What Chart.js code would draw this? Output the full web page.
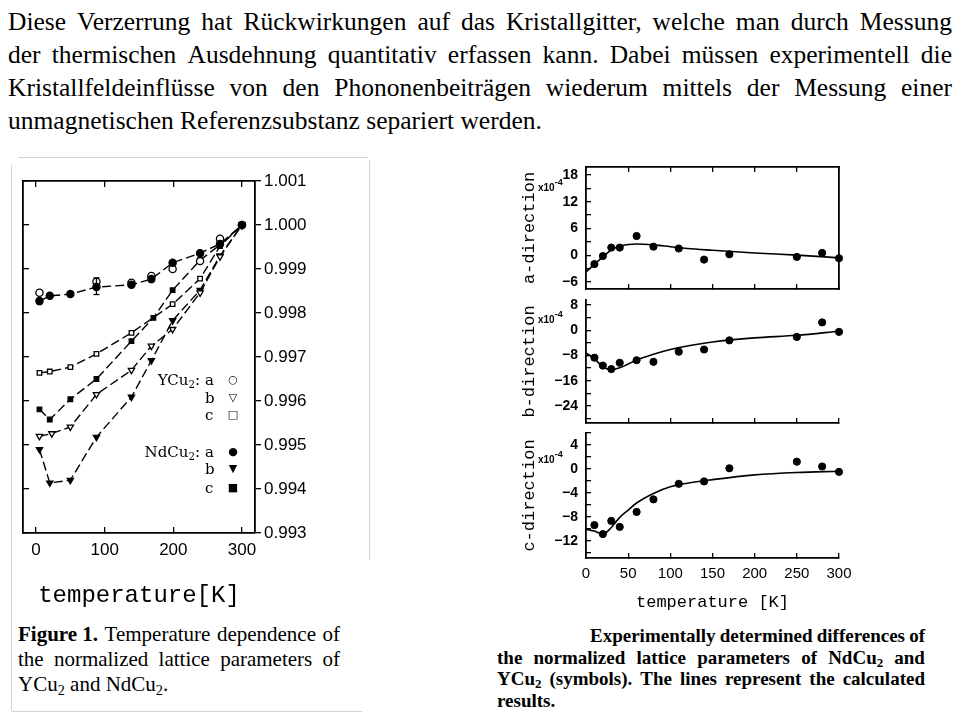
<!DOCTYPE html>
<html>
<head>
<meta charset="utf-8">
<script src="https://cdn.jsdelivr.net/npm/chart.js@4.4.0/dist/chart.umd.min.js"></script>
<style>
    body { margin: 0; width: 960px; height: 720px; background: #fff; position: relative; overflow: hidden; color: #000; font-family: "Liberation Serif", "Times New Roman", serif; }
    .abs { position: absolute; }
    canvas { position: absolute; }
    .j { display: flex; justify-content: space-between; white-space: nowrap; }
    sub { font-size: 68%; vertical-align: -0.25em; line-height: 0; }
    #para { left: 8px; top: 5px; width: 944px; font-family: "Liberation Serif", serif; font-size: 25.5px; line-height: 33px; }
    #cap1 { left: 18px; top: 622px; width: 322px; font-size: 21px; line-height: 25px; }
    #cap2 { left: 497px; top: 625px; width: 428px; font-size: 19px; line-height: 21.5px; font-weight: bold; }
    .leg { position: absolute; font-family: "DejaVu Serif", serif; font-size: 15px; line-height: 16px; }
    .mk { position: absolute; font-family: "DejaVu Sans", sans-serif; font-size: 11px; line-height: 16px; width: 14px; text-align: center; }
    .exp { position: absolute; font-family: "Liberation Sans", sans-serif; font-size: 10px; font-weight: bold; }
    .exp span { font-size: 9px; position: relative; top: -6px; }
    .scan { position: absolute; background: #d4d4d4; }
</style>
</head>
<body>

<div id="para" class="abs">
    <div class="j">Diese Verzerrung hat Rückwirkungen auf das Kristallgitter, welche man durch Messung</div>
    <div class="j">der thermischen Ausdehnung quantitativ erfassen kann. Dabei müssen experimentell die</div>
    <div class="j">Kristallfeldeinflüsse von den Phononenbeiträgen wiederum mittels der Messung einer</div>
    <div>unmagnetischen Referenzsubstanz separiert werden.</div>
</div>

<div class="scan" style="left:18px;top:157px;width:350px;height:1px"></div>
<div class="scan" style="left:369px;top:160px;width:1px;height:400px"></div>
<div class="scan" style="left:11px;top:165px;width:1px;height:546px"></div>
<div class="scan" style="left:12px;top:711px;width:350px;height:1px"></div>

<canvas id="fig1" width="320" height="450" style="left:12px;top:170px"></canvas>

<div class="leg" style="left:140px;top:372px;width:60px;text-align:right">YCu<sub>2</sub>:</div>
<div class="leg" style="left:205px;top:372px">a</div>
<div class="leg" style="left:205px;top:390px">b</div>
<div class="leg" style="left:205px;top:407px">c</div>
<div class="mk" style="left:226px;top:372px">○</div>
<div class="mk" style="left:226px;top:390px">▽</div>
<div class="mk" style="left:226px;top:407px">□</div>
<div class="leg" style="left:125px;top:444px;width:75px;text-align:right">NdCu<sub>2</sub>:</div>
<div class="leg" style="left:205px;top:444px">a</div>
<div class="leg" style="left:205px;top:461px">b</div>
<div class="leg" style="left:205px;top:480px">c</div>
<div class="mk" style="left:226px;top:444px">●</div>
<div class="mk" style="left:226px;top:461px">▼</div>
<div class="mk" style="left:226px;top:480px">■</div>

<canvas id="panelA" width="345" height="140" style="left:515px;top:157px"></canvas>
<canvas id="panelB" width="345" height="140" style="left:515px;top:292px"></canvas>
<canvas id="panelC" width="345" height="195" style="left:515px;top:425px"></canvas>

<div class="exp" style="left:538px;top:182px">x10<span>-4</span></div>
<div class="exp" style="left:538px;top:314px">x10<span>-4</span></div>
<div class="exp" style="left:538px;top:454px">x10<span>-4</span></div>

<div id="cap1" class="abs">
    <div class="j"><b>Figure&nbsp;1.</b> Temperature dependence of</div>
    <div class="j">the normalized lattice parameters of</div>
    <div>YCu<sub>2</sub> and NdCu<sub>2</sub>.</div>
</div>

<div id="cap2" class="abs">
    <div class="j" style="margin-left:93px">Experimentally determined differences of</div>
    <div class="j">the normalized lattice parameters of NdCu<sub>2</sub> and</div>
    <div class="j">YCu<sub>2</sub> (symbols). The lines represent the calculated</div>
    <div>results.</div>
</div>

<script>
// Figure 1: normalized lattice parameters vs temperature
var tNdA = [5, 20, 50, 88, 139, 168, 199, 239, 268, 300];
var vNdA = [0.99827, 0.99839, 0.99843, 0.99859, 0.99864, 0.99877, 0.99914, 0.99936, 0.99957, 1.0];
var tYA = [5, 88, 139, 168, 199, 239, 268, 300];
var vYA = [0.99846, 0.99871, 0.99869, 0.99884, 0.99900, 0.99918, 0.99969, 1.0];
var tYC = [5, 20, 50, 88, 139, 199, 239, 268, 300];
var vYC = [0.99664, 0.99667, 0.99677, 0.99707, 0.99755, 0.99820, 0.99878, 0.99952, 1.0];
var tNdC = [5, 20, 50, 88, 139, 171, 199, 239, 268, 300];
var vNdC = [0.99581, 0.99558, 0.99604, 0.99650, 0.99736, 0.99789, 0.99852, 0.99920, 0.99955, 1.0];
var tYB = [5, 23, 50, 88, 139, 168, 199, 239, 268, 300];
var vYB = [0.99520, 0.99526, 0.99541, 0.99615, 0.99670, 0.99725, 0.99763, 0.99846, 0.99928, 1.0];
var tNdB = [5, 20, 50, 88, 139, 168, 199, 239, 268, 300];
var vNdB = [0.99490, 0.99414, 0.99420, 0.99518, 0.99609, 0.99692, 0.99783, 0.99852, 0.99930, 1.0];
var errT = [88, 88];
var errV = [0.99842, 0.99880];
var fig1Ticks = [0.993, 0.994, 0.995, 0.996, 0.997, 0.998, 0.999, 1.000, 1.001];

// differences NdCu2 - YCu2 (x10^-4)
var tempsDiff = [10, 20, 30, 40, 60, 80, 110, 140, 170, 250, 280, 300];
var aDiff = [-2.0, -0.2, 1.7, 1.7, 4.3, 1.9, 1.5, -1.0, 0.2, -0.4, 0.5, -0.7];
var bDiff = [-8.7, -11.2, -12.3, -10.3, -9.5, -10.0, -6.8, -6.1, -3.2, -2.1, 2.5, -0.5];
var cDiff = [-9.4, -10.9, -8.7, -9.7, -7.2, -5.1, -2.5, -2.1, 0.1, 1.2, 0.4, -0.5];
var tempsCalc = [0, 10, 20, 30, 40, 50, 60, 80, 100, 120, 150, 200, 250, 300];
var aCalc = [-3.8, -2.0, -0.4, 1.2, 2.0, 2.4, 2.5, 2.3, 1.9, 1.5, 1.1, 0.5, 0.0, -0.6];
var bCalc = [-7.2, -9.0, -11.6, -12.5, -11.9, -10.7, -9.4, -7.6, -6.1, -5.0, -3.7, -2.4, -1.6, -0.3];
var cCalc = [-10.1, -10.4, -10.9, -9.8, -8.1, -6.9, -5.7, -4.1, -3.0, -2.4, -1.8, -1.0, -0.6, -0.4];

// justified text lines
document.querySelectorAll('.j').forEach(function (el) {
    var words = el.innerHTML.trim().split(/\s+/);
    el.innerHTML = words.map(function (w) { return '<span>' + w + '</span>'; }).join('');
});

Chart.defaults.font.family = '"Liberation Sans", Arial, sans-serif';
Chart.defaults.color = '#000';

function pts(xs, ys) {
    return xs.map(function (x, i) { return { x: x, y: ys[i] }; });
}
// fixed axis sizes, no label overflow padding
function fixW(w) {
    return function (s) { s.width = w; s.paddingTop = 0; s.paddingBottom = 0; };
}
function fixH(h) {
    return function (s) { s.height = h; s.paddingLeft = 0; s.paddingRight = 0; };
}

function serie(xs, ys, style, filled, line) {
    return {
        data: pts(xs, ys),
        showLine: line,
        borderColor: '#000',
        borderWidth: 1.4,
        borderDash: [9, 4],
        pointStyle: style,
        rotation: style === 'triangle' ? 180 : 0,
        pointRadius: style === 'rect' ? 3.2 : 3.6,
        pointBorderWidth: 1.3,
        pointBorderColor: '#000',
        pointBackgroundColor: filled ? '#000' : '#fff'
    };
}

var tickGrid = function (len) {
    return { drawOnChartArea: false, tickLength: len, color: '#000', lineWidth: 1.3 };
};
var frame = { color: '#000', width: 1.8 };

new Chart(document.getElementById('fig1'), {
    type: 'scatter',
    data: {
        datasets: [
            {
                data: pts(errT, errV), showLine: true, borderColor: '#000', borderWidth: 1.3,
                pointStyle: 'line', pointRadius: 3, pointBorderColor: '#000', pointBorderWidth: 1.3
            },
            serie(tNdA, vNdA, 'circle', true, true),
            serie(tYA, vYA, 'circle', false, false),
            serie(tYC, vYC, 'rect', false, true),
            serie(tNdC, vNdC, 'rect', true, true),
            serie(tYB, vYB, 'triangle', false, true),
            serie(tNdB, vNdB, 'triangle', true, true)
        ]
    },
    options: {
        responsive: false,
        animation: false,
        layout: { autoPadding: false, padding: { left: 11, right: 7, top: 11, bottom: 7 } },
        plugins: { legend: { display: false }, tooltip: { enabled: false } },
        scales: {
            x: {
                type: 'linear', axis: 'x', position: 'bottom', min: -19, max: 319,
                ticks: { stepSize: 100, includeBounds: false, padding: 13, font: { size: 17 } },
                grid: tickGrid(-6), border: frame,
                title: { display: true, text: 'temperature[K]', font: { family: '"Liberation Mono", monospace', size: 24 }, padding: { top: 0, bottom: 3 } },
                afterFit: fixH(80)
            },
            xt: {
                type: 'linear', axis: 'x', position: 'top', min: -19, max: 319,
                ticks: { display: false, stepSize: 100, includeBounds: false },
                grid: tickGrid(-6), border: frame, afterFit: fixH(0)
            },
            y: {
                type: 'linear', axis: 'y', position: 'right', min: 0.993, max: 1.001,
                afterBuildTicks: function (s) { s.ticks = fig1Ticks.map(function (v) { return { value: v }; }); },
                ticks: { padding: 3, autoSkip: false, font: { size: 17 }, callback: function (v) { return v.toFixed(3); } },
                grid: tickGrid(6), border: frame, afterFit: fixW(70)
            },
            yl: {
                type: 'linear', axis: 'y', position: 'left', min: 0.993, max: 1.001,
                afterBuildTicks: function (s) { s.ticks = fig1Ticks.map(function (v) { return { value: v }; }); },
                ticks: { display: false, autoSkip: false },
                grid: tickGrid(-6), border: frame, afterFit: fixW(0)
            }
        }
    }
});

function panel(id, title, vals, calc, yMin, yMax, step, major, opt) {
    var scales = {
        x: {
            type: 'linear', axis: 'x', position: 'bottom', min: 0, max: 300,
            ticks: { display: !!opt.labels, autoSkip: false, stepSize: 50, padding: 12, font: { size: 15 } },
            grid: tickGrid(-5), border: frame,
            title: { display: !!opt.labels, text: 'temperature [K]', font: { family: '"Liberation Mono", monospace', size: 17 }, padding: { top: 0, bottom: 2 } },
            afterFit: fixH(opt.xh)
        },
        y: {
            type: 'linear', axis: 'y', position: 'left', min: yMin, max: yMax,
            ticks: {
                stepSize: step, includeBounds: false, autoSkip: false, padding: 13, font: { size: 14, weight: 'bold' },
                callback: function (v) {
                    if (Math.abs(v % major) > 1e-6) return '';
                    return v < 0 ? '\u2212' + Math.abs(v) : String(v);
                }
            },
            grid: tickGrid(-5), border: frame,
            title: { display: true, text: title, font: { family: '"Liberation Mono", monospace', size: 17 }, padding: { top: 0, bottom: 0 } },
            afterFit: fixW(67)
        }
    };
    if (opt.box) {
        scales.xt = {
            type: 'linear', axis: 'x', position: 'top', min: 0, max: 300,
            ticks: { display: false, stepSize: 50 },
            grid: tickGrid(-5), border: frame, afterFit: fixH(0)
        };
        scales.yr = {
            type: 'linear', axis: 'y', position: 'right', min: yMin, max: yMax,
            ticks: { display: false, stepSize: step, includeBounds: false },
            grid: { display: false }, border: frame, afterFit: fixW(0)
        };
    }
    new Chart(document.getElementById(id), {
        type: 'scatter',
        data: {
            datasets: [{
                data: pts(tempsCalc, calc),
                showLine: true,
                cubicInterpolationMode: 'monotone',
                borderColor: '#000',
                borderWidth: 1.6,
                pointRadius: 0
            }, {
                data: pts(tempsDiff, vals),
                pointRadius: 3.6,
                pointBackgroundColor: '#000',
                pointBorderColor: '#000'
            }]
        },
        options: {
            responsive: false,
            animation: false,
            clip: false,
            layout: { autoPadding: false, padding: { left: 4, right: 21, top: opt.top, bottom: opt.bottom } },
            plugins: { legend: { display: false }, tooltip: { enabled: false } },
            scales: scales
        }
    });
}

panel('panelA', 'a-direction', aDiff, aCalc, -7.6, 19.8, 3, 6, { box: true, top: 10, bottom: 0, xh: 8 });
panel('panelB', 'b-direction', bDiff, bCalc, -29.4, 9.6, 4, 8, { top: 8, bottom: 0, xh: 9 });
panel('panelC', 'c-direction', cDiff, cCalc, -14.9, 6.0, 2, 4, { labels: true, top: 8, bottom: 5, xh: 57 });
</script>
</body>
</html>
